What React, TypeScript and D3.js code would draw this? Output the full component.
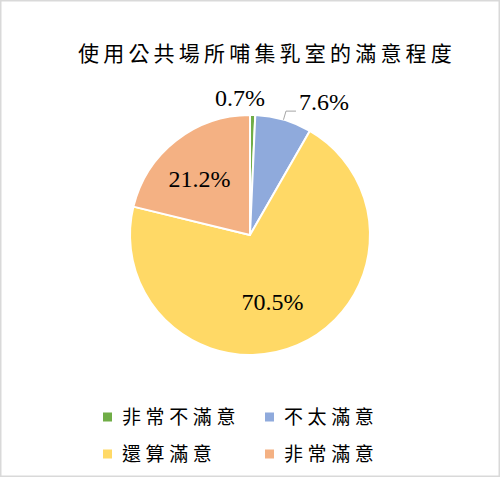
import React, { useEffect, useRef } from 'react';
import * as d3 from 'd3';

const title = '使用公共場所哺集乳室的滿意程度';
const categories = ['非常不滿意', '不太滿意', '還算滿意', '非常滿意'];
const values = [0.7, 7.6, 70.5, 21.2];
const colors = ['#70AD47', '#8FAADC', '#FFD966', '#F4B183'];
// which labels sit outside the pie
const outside = [true, true, false, false];

const App: React.FC = () => {
  const svgRef = useRef<SVGSVGElement | null>(null);

  useEffect(() => {
    document.body.style.margin = '0';
    if (!svgRef.current) return;
    const svg = d3.select(svgRef.current);
    svg.selectAll('*').remove();

    const width = 501;
    const height = 478;
    const cx = 250;
    const cy = 235;
    const r = 120;

    svg.attr('viewBox', `0 0 ${width} ${height}`);

    svg.append('rect')
      .attr('x', 0.75).attr('y', 0.75)
      .attr('width', width - 2.5).attr('height', height - 2.5)
      .attr('fill', '#fff')
      .attr('stroke', '#d9d9d9')
      .attr('stroke-width', 1.5);

    svg.append('text')
      .attr('x', 267)
      .attr('y', 61)
      .attr('text-anchor', 'middle')
      .style('font-family', "'Noto Sans CJK TC', sans-serif")
      .attr('font-size', 21)
      .attr('letter-spacing', 4.2)
      .attr('fill', '#000')
      .text(title);

    const pie = d3.pie<number>().sort(null).value(d => d);
    const arcs = pie(values);
    const arc = d3.arc<d3.PieArcDatum<number>>().innerRadius(0).outerRadius(r);
    const labelArc = d3.arc<d3.PieArcDatum<number>>().innerRadius(r * 0.6).outerRadius(r * 0.6);

    const g = svg.append('g').attr('transform', `translate(${cx},${cy})`);

    g.selectAll('path')
      .data(arcs)
      .join('path')
      .attr('d', arc)
      .attr('fill', (_, i) => colors[i])
      .attr('stroke', '#fff')
      .attr('stroke-width', 2)
      .attr('stroke-linejoin', 'round');

    const fmt = (v: number) => `${v.toFixed(1)}%`;
    const labelFont = "'Liberation Serif', 'Times New Roman', serif";

    arcs.forEach((a, i) => {
      const mid = (a.startAngle + a.endAngle) / 2;
      if (!outside[i]) {
        const [x, y] = labelArc.centroid(a);
        g.append('text')
          .attr('x', x - 6).attr('y', y)
          .attr('text-anchor', 'middle')
          .attr('dy', '0.35em')
          .style('font-family', labelFont)
          .attr('font-size', 24)
          .text(fmt(values[i]));
        return;
      }
      const pt = (rad: number): [number, number] => [Math.sin(mid) * rad, -Math.cos(mid) * rad];
      if (values[i] < 2) {
        const [x, y] = pt(r + 16);
        g.append('text')
          .attr('x', x - 13).attr('y', y)
          .attr('text-anchor', 'middle')
          .attr('dy', '0.3em')
          .style('font-family', labelFont)
          .attr('font-size', 24)
          .text(fmt(values[i]));
        return;
      }
      const p0 = pt(r);
      const p1 = pt(r + 9);
      const p2: [number, number] = [p1[0] + 10, p1[1]];
      g.append('polyline')
        .attr('points', [p0, p1, p2].map(p => p.join(',')).join(' '))
        .attr('fill', 'none')
        .attr('stroke', '#a6a6a6')
        .attr('stroke-width', 1);
      g.append('text')
        .attr('x', p2[0] + 3).attr('y', p2[1] - 1)
        .attr('text-anchor', 'start')
        .style('font-family', labelFont)
        .attr('font-size', 24)
        .text(fmt(values[i]));
    });

    // legend, two columns
    const legend = svg.append('g');
    const colX = [103, 265];
    const rowY = [417, 454];
    categories.forEach((c, i) => {
      const x = colX[i % 2];
      const y = rowY[Math.floor(i / 2)];
      legend.append('rect')
        .attr('x', x).attr('y', y - 4.5)
        .attr('width', 9).attr('height', 9)
        .attr('fill', colors[i]);
      legend.append('text')
        .attr('x', x + 19).attr('y', y)
        .attr('dy', '0.36em')
        .style('font-family', "'Noto Sans CJK TC', sans-serif")
        .attr('font-size', 19)
        .attr('letter-spacing', 4.6)
        .attr('fill', '#000')
        .text(c);
    });
  }, []);

  return <svg ref={svgRef} width={501} height={478} style={{ display: 'block' }}></svg>;
};

export default App;
